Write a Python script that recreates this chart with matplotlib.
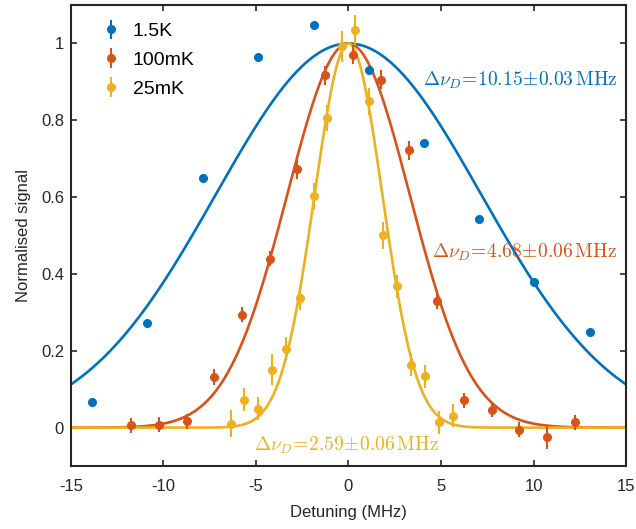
import numpy as np
import matplotlib
matplotlib.use("Agg")
import matplotlib.pyplot as plt

plt.rcParams['font.family'] = ['Liberation Sans', 'DejaVu Sans']
plt.rcParams['mathtext.fontset'] = 'cm'
plt.rcParams['axes.unicode_minus'] = False

# 1.5K data
x_15K = [-13.86, -10.89, -7.86, -4.89, -1.86, 1.11, 4.08, 7.08, 10.05, 13.05]
y_15K = [0.068, 0.273, 0.651, 0.966, 1.047, 0.932, 0.742, 0.544, 0.380, 0.250]
e_15K = [0.005] * 10

# 100mK data
x_100mK = [-11.74, -10.23, -8.73, -7.25, -5.74, -4.24, -2.78, -1.27, 0.22,
           1.76, 3.27, 4.77, 6.26, 7.77, 9.23, 10.75, 12.24]
y_100mK = [0.006, 0.008, 0.016, 0.132, 0.294, 0.440, 0.672, 0.917, 0.971,
           0.906, 0.722, 0.329, 0.071, 0.047, -0.005, -0.025, 0.014]
e_100mK = [0.02, 0.02, 0.02, 0.02, 0.02, 0.02, 0.025, 0.025, 0.025,
           0.025, 0.025, 0.02, 0.02, 0.02, 0.02, 0.03, 0.02]

# 25mK data
x_25mK = [-6.37, -5.63, -4.87, -4.14, -3.38, -2.64, -1.86, -1.14, -0.37,
          0.37, 1.11, 1.88, 2.60, 3.36, 4.12, 4.87, 5.63]
y_25mK = [0.010, 0.073, 0.049, 0.151, 0.205, 0.337, 0.602, 0.806, 0.993,
          1.035, 0.850, 0.501, 0.368, 0.164, 0.134, 0.014, 0.031]
e_25mK = [0.035, 0.03, 0.03, 0.04, 0.03, 0.03, 0.035, 0.035, 0.04,
          0.04, 0.035, 0.035, 0.03, 0.03, 0.03, 0.03, 0.03]

# fitted Doppler widths (MHz)
widths = [10.15, 4.68, 2.59]
width_err = [0.03, 0.06, 0.06]
labels = ['1.5K', '100mK', '25mK']
colors = ['#0072BD', '#D95319', '#EDB120']

fig = plt.figure(figsize=(6.36, 5.29), dpi=100)
ax = fig.add_axes([0.1116, 0.119, 0.8727, 0.8715])

xf = np.linspace(-15, 15, 600)
data = [(x_15K, y_15K, e_15K), (x_100mK, y_100mK, e_100mK), (x_25mK, y_25mK, e_25mK)]
for (xs, ys, es), w, lab, c in zip(data, widths, labels, colors):
    ax.errorbar(xs, ys, yerr=es, fmt='o', color=c, ms=5.5, elinewidth=1.5,
                capsize=0, label=lab, zorder=3)
for w, c in zip(widths, colors):
    ax.plot(xf, np.exp(-xf**2 / w**2), color=c, lw=1.9, zorder=2)

# width annotations
txt_pos = [(4.0, 0.905), (4.5, 0.455), (-5.1, -0.045)]
for (tx, ty), w, we, c in zip(txt_pos, widths, width_err, colors):
    ax.text(tx, ty, r'$\Delta\nu_D\!=\!%.2f\!\pm\!%.2f\,\mathrm{MHz}$' % (w, we),
            color=c, fontsize=14, va='center', ha='left')

ax.set_xlim(-15, 15)
ax.set_ylim(-0.1, 1.1)
ax.set_xticks([-15, -10, -5, 0, 5, 10, 15])
ax.set_yticks([0, 0.2, 0.4, 0.6, 0.8, 1])
ax.set_yticklabels(['0', '0.2', '0.4', '0.6', '0.8', '1'])
ax.tick_params(direction='in', top=True, right=True, labelsize=12,
               length=4.5, width=1.2, colors='#262626')
ax.tick_params(axis='x', pad=9)
ax.tick_params(axis='y', pad=5)
for s in ax.spines.values():
    s.set_linewidth(1.5)
    s.set_color('#262626')
ax.set_xlabel('Detuning (MHz)', fontsize=12, color='#262626', labelpad=8)
ax.set_ylabel('Normalised signal', fontsize=12, color='#262626', labelpad=7)

ax.legend(loc='upper left', bbox_to_anchor=(0.015, 1.0), frameon=False,
          fontsize=14, handletextpad=0.35, borderaxespad=0.4, borderpad=0.5,
          labelspacing=0.58, handlelength=1.5)

fig.savefig('out.png', dpi=100)
